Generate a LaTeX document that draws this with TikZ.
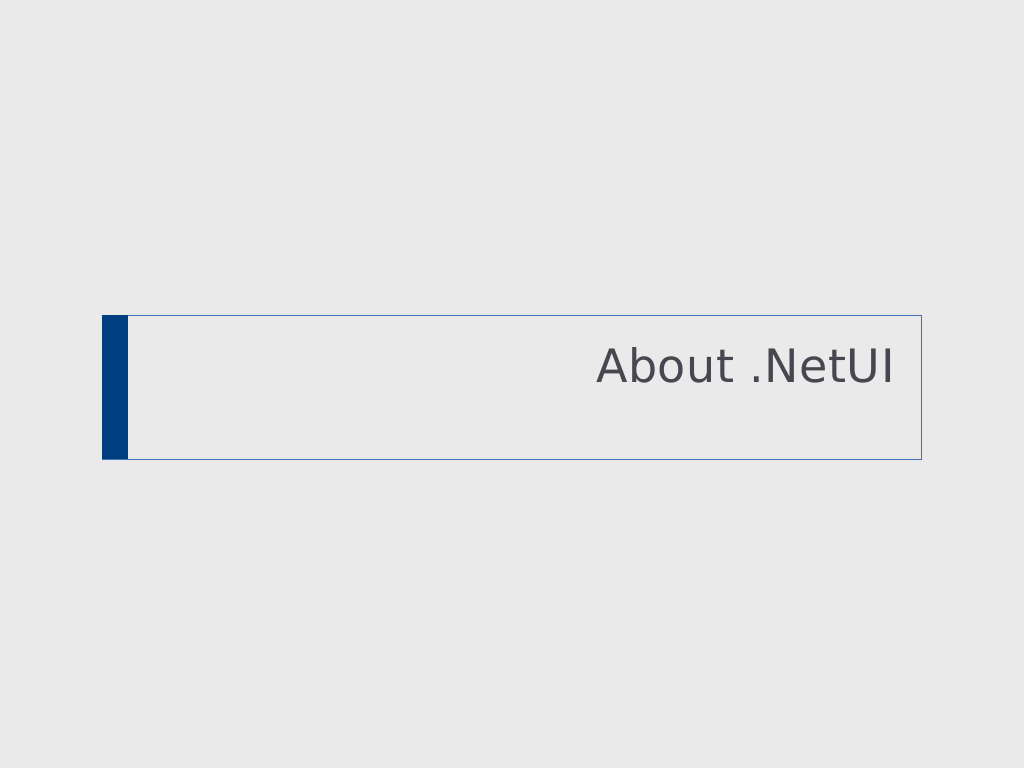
\documentclass[tikz,border=0pt]{standalone}
\usepackage{fontspec}
\setmainfont{DejaVu Sans}
\usepackage{tikz}

\begin{document}
\begin{tikzpicture}[x=1pt,y=1pt]

		\definecolor{hintergrund}{HTML}{EAEAEA}
		\definecolor{balken}{HTML}{003F7F}
		\definecolor{rahmen}{HTML}{3F73B5}
		\definecolor{schrift}{HTML}{47474F}

		% Hintergrund
		\fill[hintergrund] (0,0) rectangle (1024,768);
		\useasboundingbox (0,0) rectangle (1024,768);
		% Rahmen
		\draw[rahmen ,line width=0.8pt] (102,309) rectangle (921,453);
		% Balken
		\fill[balken] (102,309) rectangle (128,453);
		% Titel
		\node[schrift ,anchor=base east ,inner sep=0pt] (titel) at (895,385) {\fontsize{46}{55}\selectfont\addfontfeatures{LetterSpace=1.2} About .NetUI};

	\end{tikzpicture}
\end{document}
